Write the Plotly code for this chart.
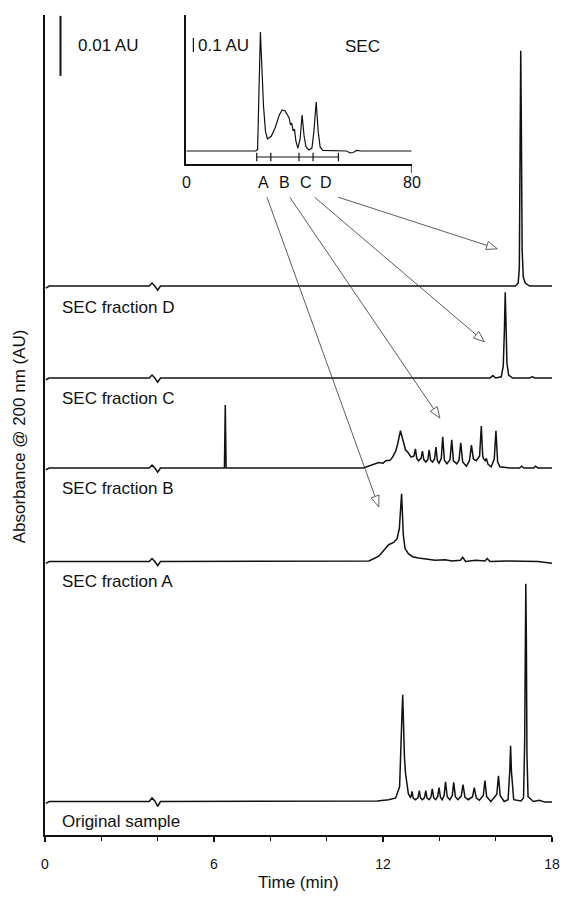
import math
import plotly.graph_objects as go

# ---------------- data ----------------
# Main chromatograms: (time in min, absorbance above the trace's own baseline in mAU)
ORIGINAL = [(0.03,-0.3),(0.15,0.0),(3.70,0.0),(3.80,0.6),(3.90,0.1),(4.00,-0.8),(4.10,0.0),
            (11.80,0.1),(12.20,0.3),(12.45,0.6),(12.59,2.5),(12.64,8.0),(12.67,14.0),(12.70,17.8),
            (12.73,12.0),(12.76,7.5),(12.80,4.7),(12.90,1.3),(12.97,0.7),
            (13.00,0.9),(13.03,1.7),(13.07,0.6),(13.15,0.3),(13.24,0.6),(13.29,1.8),(13.33,0.6),
            (13.40,0.3),(13.47,0.6),(13.52,1.8),(13.56,0.6),(13.64,0.3),(13.70,0.7),(13.75,2.1),
            (13.80,0.6),(13.87,0.3),(13.94,0.8),(13.99,2.3),(14.04,0.7),(14.10,0.3),(14.17,1.0),
            (14.22,3.3),(14.28,0.8),(14.37,0.3),(14.46,1.0),(14.51,3.2),(14.57,0.8),(14.66,0.3),
            (14.78,0.9),(14.84,2.8),(14.91,0.7),(15.03,0.3),(15.18,0.8),(15.24,2.3),(15.31,0.6),
            (15.42,0.2),(15.56,1.0),(15.62,3.5),(15.68,0.8),(15.83,0.0),(16.04,1.2),(16.10,4.3),
            (16.16,1.0),(16.30,0.0),(16.44,0.3),(16.50,5.0),(16.53,9.3),(16.56,5.0),(16.64,0.3),
            (16.90,0.1),(16.99,0.6),(17.03,10.0),(17.05,28.0),(17.07,36.3),(17.09,27.0),(17.11,8.0),
            (17.15,0.8),(17.34,0.0),(17.55,0.2),(17.75,-0.1),(18.00,-0.1)]

FRACTION_A = [(0.03,-0.3),(0.15,0.0),(3.70,0.0),(3.80,0.5),(3.90,0.0),(4.00,-0.7),(4.10,0.0),
              (10.35,0.0),(11.50,0.1),(11.85,0.9),(12.05,2.0),(12.20,2.8),(12.38,3.2),(12.50,3.8),
              (12.58,5.5),(12.63,9.0),(12.66,11.3),(12.69,8.0),(12.72,4.5),(12.78,2.2),(12.90,1.3),
              (13.05,0.8),(13.26,0.6),(13.85,0.2),(14.20,0.3),(14.45,0.1),(14.75,0.2),(14.83,0.7),
              (14.93,0.0),(15.30,0.2),(15.62,0.1),(15.70,0.5),(15.80,0.0),(16.40,0.1),(17.00,0.1),
              (17.50,0.0),(18.00,-0.3)]

FRACTION_B = [(0.03,-0.3),(0.15,0.0),(3.70,0.0),(3.80,0.5),(3.90,0.0),(4.00,-0.7),(4.10,0.0),
              (6.37,0.0),(6.40,10.5),(6.43,0.0),
              (11.30,0.0),(11.64,0.6),(11.85,0.9),(12.00,0.8),(12.10,1.2),(12.25,1.3),(12.34,1.8),
              (12.45,2.8),(12.52,4.0),(12.62,6.2),(12.68,5.0),(12.73,4.0),(12.80,3.0),(12.87,2.7),
              (13.00,1.8),(13.10,2.0),(13.15,3.2),(13.20,1.6),(13.26,1.2),(13.35,1.6),(13.40,2.8),
              (13.45,1.4),(13.52,1.0),(13.59,1.4),(13.64,3.0),(13.69,1.3),(13.76,1.0),(13.83,1.5),
              (13.88,3.5),(13.93,1.2),(13.99,0.8),(14.07,1.6),(14.12,5.2),(14.18,1.3),(14.27,0.7),
              (14.38,1.4),(14.44,4.7),(14.50,1.2),(14.62,0.7),(14.70,1.3),(14.76,4.2),(14.83,1.0),
              (14.96,0.3),(15.07,1.2),(15.14,3.8),(15.21,1.5),(15.31,1.2),(15.43,2.0),(15.49,7.0),
              (15.54,2.0),(15.57,1.5),(15.63,1.2),(15.67,1.6),(15.73,0.6),(15.84,0.2),(15.95,1.5),
              (16.01,6.2),(16.07,1.0),(16.15,0.2),(16.50,0.0),(16.85,0.0),(16.92,0.3),(17.00,0.0),
              (17.35,0.0),(17.41,0.3),(17.50,0.0),(18.00,0.0)]

FRACTION_C = [(0.03,-0.3),(0.15,0.0),(3.70,0.0),(3.80,0.5),(3.90,0.0),(4.00,-0.7),(4.10,0.0),
              (15.80,0.0),(15.90,0.4),(16.00,0.0),(16.20,0.2),(16.27,2.0),(16.31,8.0),(16.34,14.3),
              (16.37,8.5),(16.40,2.5),(16.46,0.5),(16.60,0.0),(17.20,0.0),(17.30,0.2),(17.40,0.0),
              (18.00,0.0)]

FRACTION_D = [(0.03,-0.35),(0.15,0.0),(3.70,0.0),(3.80,0.5),(3.90,0.0),(4.00,-0.7),(4.10,0.0),
              (16.70,0.0),(16.80,0.5),(16.84,3.0),(16.87,25.0),(16.89,39.2),(16.91,28.0),
              (16.94,6.0),(16.98,1.5),(17.05,0.5),(17.20,0.0),(18.00,0.0)]

TRACE_LABELS = ["Original sample", "SEC fraction A", "SEC fraction B", "SEC fraction C", "SEC fraction D"]
TRACE_DATA = [ORIGINAL, FRACTION_A, FRACTION_B, FRACTION_C, FRACTION_D]

# SEC inset: (elution volume units, absorbance AU)
SEC = [(0,0),(24.6,0),(25.3,0.01),(25.6,0.29),(26.0,0.64),(26.3,0.85),(26.8,0.61),(27.4,0.32),
       (28.1,0.14),(28.8,0.086),(30.2,0.107),(31.6,0.17),(33.0,0.257),(34.0,0.293),(35.1,0.286),
       (35.8,0.264),(36.5,0.236),(37.0,0.186),(37.4,0.2),(37.9,0.143),(38.4,0.157),(38.9,0.07),
       (39.6,0.021),(40.4,0.086),(41.1,0.257),(41.8,0.107),(42.5,0.029),(43.5,0.007),(44.6,0.021),
       (45.3,0.143),(46.1,0.35),(46.8,0.143),(47.5,0.029),(48.4,0.004),(53.3,0),(56.8,0),
       (58.2,-0.014),(59.3,-0.011),(60.4,0.005),(62.1,0),(80,0)]
FRACTION_EDGES = [25, 30, 40, 45, 54]
FRACTION_NAMES = ["A", "B", "C", "D"]
X_TICKS = [0, 6, 12, 18]
INSET_TICKS = [0, 80]

# ---------------- layout / positions ----------------
W, H = 572, 898
ML, MR, MT, MB = 45, 14, 15, 63
PW, PH = W - ML - MR, H - MT - MB
PX_PER_MAU = 6.0
Y_TOP = PH / PX_PER_MAU
BASELINES = [5.58, 45.58, 61.17, 76.17, 91.5]      # mAU offsets of each trace
LABEL_Y = [2.33, 42.33, 57.83, 72.83, 88.0]
LABEL_X = 0.55

def px_x(t): return ML + t / 18.0 * PW
def px_y(v): return MT + PH - v / Y_TOP * PH
def pap_x(px): return (px - ML) / PW
def pap_y(py): return (MT + PH - py) / PH

INSET_PX_X = (188, 416)
INSET_PX_Y = (164, 15)
INSET_PX_PER_AU = 140.0
INSET_BASE_PX = 151
inset_y_range = [-(INSET_PX_Y[0] - INSET_BASE_PX) / INSET_PX_PER_AU,
                 (INSET_BASE_PX - INSET_PX_Y[1]) / INSET_PX_PER_AU]
BAR_Y = -6 / INSET_PX_PER_AU
INSET_LABEL_PY = 183

FONT = "Liberation Sans, Arial, Helvetica, sans-serif"
INK = "#111111"

fig = go.Figure()

for data, base in zip(TRACE_DATA, BASELINES):
    fig.add_trace(go.Scatter(x=[p[0] for p in data], y=[p[1] + base for p in data],
                             mode="lines", line=dict(color=INK, width=1.5),
                             hoverinfo="skip", showlegend=False))

fig.add_trace(go.Scatter(x=[p[0] for p in SEC], y=[p[1] for p in SEC], xaxis="x2", yaxis="y2",
                         mode="lines", line=dict(color=INK, width=1.2),
                         hoverinfo="skip", showlegend=False))
fig.add_trace(go.Scatter(x=FRACTION_EDGES, y=[BAR_Y] * len(FRACTION_EDGES), xaxis="x2", yaxis="y2",
                         mode="lines+markers", line=dict(color=INK, width=1),
                         marker=dict(symbol="line-ns-open", size=6, color=INK,
                                     line=dict(color=INK, width=1.2)),
                         hoverinfo="skip", showlegend=False))

annotations = []
for lab, ly in zip(TRACE_LABELS, LABEL_Y):
    annotations.append(dict(x=LABEL_X, y=ly, xref="x", yref="y", text=lab, showarrow=False,
                            xanchor="left", yanchor="middle", font=dict(size=17, color=INK)))

# scale bar 0.01 AU
fig.add_shape(type="line", xref="x", yref="y", x0=0.55, x1=0.55, y0=Y_TOP - 0.15, y1=Y_TOP - 10.15,
              line=dict(color=INK, width=2))
annotations.append(dict(x=1.1, y=Y_TOP - 5.15, xref="x", yref="y", text="0.01 AU", showarrow=False,
                        xanchor="left", yanchor="middle", font=dict(size=17, color=INK)))
# inset scale bar 0.1 AU
fig.add_shape(type="line", xref="x2", yref="y2", x0=2.5, x1=2.5, y0=0.707, y1=0.807,
              line=dict(color=INK, width=1.2))
annotations.append(dict(x=3.4, y=0.757, xref="x2", yref="y2", text="0.1 AU", showarrow=False,
                        xanchor="left", yanchor="middle", font=dict(size=17, color=INK)))
annotations.append(dict(x=62.5, y=0.743, xref="x2", yref="y2", text="SEC", showarrow=False,
                        xanchor="center", yanchor="middle", font=dict(size=17, color=INK)))
# inset tick labels and fraction letters
for v in INSET_TICKS:
    annotations.append(dict(x=v, y=pap_y(INSET_LABEL_PY), xref="x2", yref="paper", text=str(v),
                            showarrow=False, xanchor="center", yanchor="middle",
                            font=dict(size=16, color=INK)))
for i, name in enumerate(FRACTION_NAMES):
    mid = (FRACTION_EDGES[i] + FRACTION_EDGES[i + 1]) / 2
    annotations.append(dict(x=mid, y=pap_y(INSET_LABEL_PY), xref="x2", yref="paper", text=name,
                            showarrow=False, xanchor="center", yanchor="middle",
                            font=dict(size=16, color=INK)))
# end tick at 80 on inset axis
fig.add_shape(type="line", xref="x2", yref="paper", x0=80, x1=80, y0=pap_y(INSET_PX_Y[0]),
              y1=pap_y(INSET_PX_Y[0] + 9), line=dict(color=INK, width=1.5))

# axis titles
annotations.append(dict(x=pap_x(19), y=pap_y(436), xref="paper", yref="paper",
                        text="Absorbance @ 200 nm (AU)", textangle=-90, showarrow=False,
                        xanchor="center", yanchor="middle", font=dict(size=17, color=INK)))
annotations.append(dict(x=0.5, y=pap_y(882), xref="paper", yref="paper", text="Time (min)",
                        showarrow=False, xanchor="center", yanchor="middle",
                        font=dict(size=17, color=INK)))

# arrows from the SEC fractions to their chromatograms (open heads)
ARROW_STARTS = [(7.88, 106.3), (8.69, 106.3), (9.57, 106.3), (10.41, 106.3)]
ARROW_ENDS = [(11.85, 54.7), (14.02, 69.5), (15.60, 82.2), (16.06, 97.7)]
to_t = lambda px: (px - ML) / PW * 18.0
to_v = lambda py: (MT + PH - py) / PH * Y_TOP
for (xs, ys), (xe, ye) in zip(ARROW_STARTS, ARROW_ENDS):
    sx, sy, ex, ey = px_x(xs), px_y(ys), px_x(xe), px_y(ye)
    L = math.hypot(ex - sx, ey - sy)
    ux, uy = (ex - sx) / L, (ey - sy) / L
    nx, ny = -uy, ux
    hl, hw = 11, 4.2
    bx, by = ex - hl * ux, ey - hl * uy
    c1 = (bx + hw * nx, by + hw * ny)
    c2 = (bx - hw * nx, by - hw * ny)
    fig.add_shape(type="line", xref="x", yref="y", x0=xs, y0=ys, x1=to_t(bx), y1=to_v(by),
                  line=dict(color="#333333", width=0.8))
    path = "M {:.4f},{:.4f} L {:.4f},{:.4f} L {:.4f},{:.4f} Z".format(
        xe, ye, to_t(c1[0]), to_v(c1[1]), to_t(c2[0]), to_v(c2[1]))
    fig.add_shape(type="path", xref="x", yref="y", path=path, fillcolor="white",
                  line=dict(color="#333333", width=0.8))

fig.update_layout(
    width=W, height=H, margin=dict(l=ML, r=MR, t=MT, b=MB),
    paper_bgcolor="white", plot_bgcolor="rgba(0,0,0,0)",
    font=dict(family=FONT, color=INK, size=14),
    showlegend=False, annotations=annotations,
    xaxis=dict(range=[0, 18], domain=[0, 1], showline=True, linecolor=INK, linewidth=1.5,
               showgrid=False, zeroline=False, tickmode="array", tickvals=X_TICKS,
               ticks="outside", ticklen=5, tickwidth=1.5, tickcolor=INK,
               minor=dict(dtick=2, tick0=0, ticks="outside", ticklen=4, tickwidth=1.2, tickcolor=INK),
               tickfont=dict(size=14, color=INK), ticklabelstandoff=10, fixedrange=True),
    yaxis=dict(range=[0, Y_TOP], domain=[0, 1], showline=True, linecolor=INK, linewidth=1.5,
               showgrid=False, zeroline=False, showticklabels=False, ticks="", fixedrange=True),
    xaxis2=dict(range=[0, 80], domain=[pap_x(INSET_PX_X[0]), pap_x(INSET_PX_X[1])], anchor="y2",
                showline=True, linecolor=INK, linewidth=1.5, showgrid=False, zeroline=False,
                showticklabels=False, ticks="", fixedrange=True),
    yaxis2=dict(range=inset_y_range, domain=[pap_y(INSET_PX_Y[0]), pap_y(INSET_PX_Y[1])], anchor="x2",
                showline=True, linecolor=INK, linewidth=1.5, showgrid=False, zeroline=False,
                showticklabels=False, ticks="", fixedrange=True),
)

fig.write_html("out.html")
